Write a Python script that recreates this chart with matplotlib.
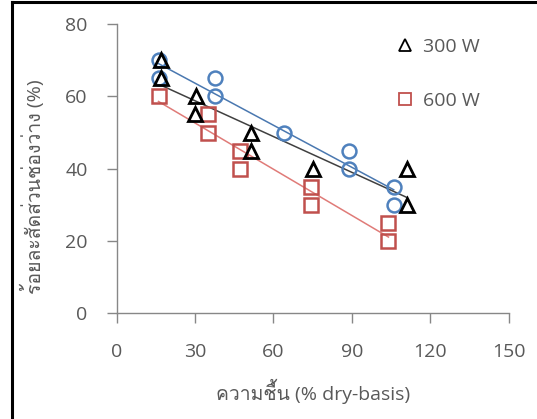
import numpy as np
import matplotlib
matplotlib.use('Agg')
import matplotlib.pyplot as plt
from matplotlib import font_manager
from matplotlib.ft2font import FT2Font
from matplotlib.lines import Line2D

# pick an installed font that has Thai glyphs
thai_font = None
for f in font_manager.fontManager.ttflist:
    try:
        if 0x0E04 in FT2Font(f.fname).get_charmap():
            thai_font = f.name
            break
    except Exception:
        pass

families = ['Open Sans']
if thai_font:
    families.append(thai_font)
families.append('DejaVu Sans')
plt.rcParams['font.family'] = families

# moisture (% dry-basis) vs. void fraction (%)
x_circle = [16, 16, 37.5, 37.5, 64, 89, 89, 106, 106]
y_circle = [70, 65, 65, 60, 50, 45, 40, 35, 30]

x_300 = [17, 17, 30.5, 30, 51.5, 51.5, 75, 111, 111]
y_300 = [70, 65, 60, 55, 50, 45, 40, 40, 30]

x_600 = [16, 35, 35, 47, 47, 74.5, 74.5, 104, 104]
y_600 = [60, 55, 50, 45, 40, 35, 30, 25, 20]

xticks = [0, 30, 60, 90, 120, 150]
yticks = [0, 20, 40, 60, 80]

grey = '#595959'
blue = '#4F81BD'
red = '#C0504D'

fig = plt.figure(figsize=(5.37, 4.19), dpi=100)
ax = fig.add_axes([0.2173, 0.2518, 0.73, 0.6909])

def trend(xs, ys, color):
    p = np.polyfit(xs, ys, 1)
    xx = np.array([min(xs), max(xs)])
    ax.plot(xx, np.polyval(p, xx), color=color, lw=1.1, zorder=2)

trend(x_circle, y_circle, '#4A78B0')
trend(x_300, y_300, '#404040')
trend(x_600, y_600, '#E07B78')

ax.plot(x_circle, y_circle, 'o', ms=10, mfc='none', mec=blue, mew=1.8, zorder=3)
ax.plot(x_300, y_300, '^', ms=10, mfc='none', mec='black', mew=2.0, zorder=4)
ax.plot(x_600, y_600, 's', ms=9.5, mfc='none', mec=red, mew=1.8, zorder=3)

ax.set_xlim(0, 150)
ax.set_ylim(0, 80)
ax.set_xticks(xticks)
ax.set_yticks(yticks)
ax.tick_params(direction='out', length=7, width=1, color='#878787',
               labelcolor=grey, labelsize=14, pad=14)
for s in ['top', 'right']:
    ax.spines[s].set_visible(False)
for s in ['left', 'bottom']:
    ax.spines[s].set_color('#878787')
    ax.spines[s].set_linewidth(1)

ax.set_xlabel('ความชื้น (% dry-basis)', fontsize=14, color=grey, labelpad=13)
ax.set_ylabel('ร้อยละสัดส่วนช่องว่าง (%)', fontsize=14, color=grey)
ax.yaxis.set_label_coords(-0.182, 0.438)

handles = [
    Line2D([], [], ls='none', marker='^', ms=8, mfc='none', mec='black', mew=1.3),
    Line2D([], [], ls='none', marker='s', ms=8, mfc='none', mec=red, mew=1.3),
]
leg = ax.legend(handles, ['300 W', '600 W'], loc='upper left',
                bbox_to_anchor=(0.671, 1.012), frameon=False, fontsize=14,
                labelspacing=1.85, handlelength=0.8, handletextpad=0.5)
for t in leg.get_texts():
    t.set_color(grey)

# frame lines along the top and left edges
fig.add_artist(Line2D([12 / 537, 12 / 537], [0, 1 - 2 / 419], transform=fig.transFigure,
                      color='black', lw=2.2))
fig.add_artist(Line2D([12 / 537, 1], [1 - 2 / 419, 1 - 2 / 419], transform=fig.transFigure,
                      color='black', lw=2.2))

fig.savefig('out.png', dpi=100)
